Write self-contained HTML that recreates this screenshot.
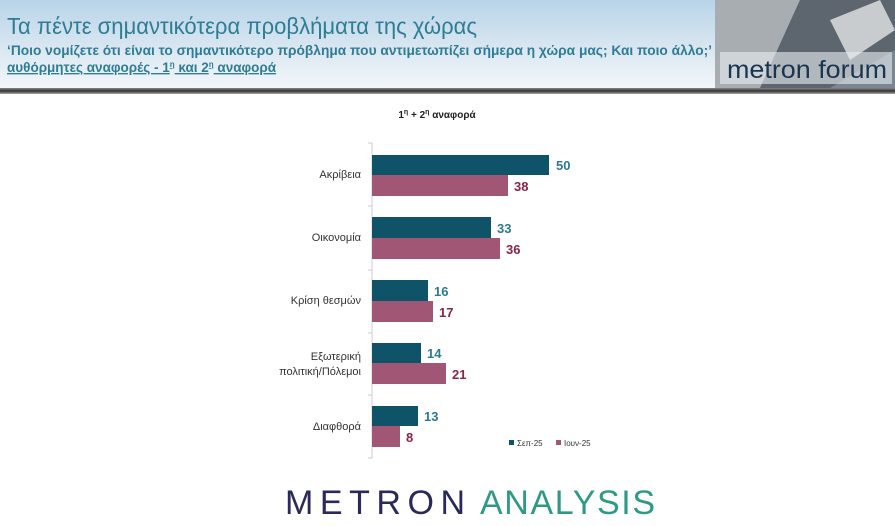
<!DOCTYPE html>
<html><head><meta charset="utf-8"><style>
html,body{margin:0;padding:0;width:895px;height:526px;overflow:hidden;background:#fff;font-family:"Liberation Sans","DejaVu Sans",sans-serif}
</style></head><body>
<svg width="895" height="526" xmlns="http://www.w3.org/2000/svg">
<defs>
<linearGradient id="hg" x1="0" y1="0" x2="0" y2="1">
<stop offset="0" stop-color="#b8d4e8"/><stop offset="0.6" stop-color="#dde9f2"/><stop offset="1" stop-color="#f4f7fa"/></linearGradient>
<linearGradient id="ln" x1="0" y1="0" x2="0" y2="1">
<stop offset="0" stop-color="#888"/><stop offset="0.5" stop-color="#333"/><stop offset="1" stop-color="#aaa"/></linearGradient>
</defs>
<rect x="0" y="0" width="895" height="90" fill="url(#hg)"/>
<rect x="0" y="88" width="895" height="6" fill="url(#ln)"/>
<rect x="715" y="0" width="180" height="88" fill="#7b8691"/>
<polygon points="715,0 800,0 760,88 715,88" fill="#a8adb2"/>
<polygon points="800,0 895,0 895,50 830,88 760,88" fill="#5d666e"/>
<polygon points="830,20 880,0 895,30 850,60" fill="#c9ccce"/>
<rect x="720" y="52" width="172" height="32" fill="#e8eef2" opacity="0.6"/>
<text x="727" y="78" font-size="25" fill="#1a3550" textLength="160" lengthAdjust="spacingAndGlyphs">metron forum</text>
<text x="7" y="34" font-size="23" fill="#2f7c95" textLength="470" lengthAdjust="spacingAndGlyphs">Τα πέντε σημαντικότερα προβλήματα της χώρας</text>
<text x="7" y="55" font-size="13.5" font-weight="bold" fill="#2f7c95" textLength="705" lengthAdjust="spacingAndGlyphs">‘Ποιο νομίζετε ότι είναι το σημαντικότερο πρόβλημα που αντιμετωπίζει σήμερα η χώρα μας; Και ποιο άλλο;’</text>
<text x="7" y="72" font-size="13.5" font-weight="bold" fill="#2f7c95" text-decoration="underline">αυθόρμητες αναφορές - 1<tspan font-size="8" dy="-5">η</tspan><tspan dy="5"> και 2</tspan><tspan font-size="8" dy="-5">η</tspan><tspan dy="5"> αναφορά</tspan></text>
<text x="437" y="118" font-size="10" font-weight="bold" fill="#222" text-anchor="middle">1<tspan font-size="7" dy="-4">η</tspan><tspan dy="4"> + 2</tspan><tspan font-size="7" dy="-4">η</tspan><tspan dy="4"> αναφορά</tspan></text>
<line x1="372" y1="143" x2="372" y2="458" stroke="#ccc"/>
<g stroke="#ccc"><line x1="368" y1="143" x2="372" y2="143"/><line x1="368" y1="206" x2="372" y2="206"/><line x1="368" y1="270" x2="372" y2="270"/><line x1="368" y1="333" x2="372" y2="333"/><line x1="368" y1="395" x2="372" y2="395"/><line x1="368" y1="458" x2="372" y2="458"/></g>
<g fill="#0e5368">
<rect x="372" y="155" width="177" height="20"/><rect x="372" y="217" width="119" height="21"/><rect x="372" y="280" width="56" height="21"/><rect x="372" y="343" width="49" height="20"/><rect x="372" y="406" width="46" height="20"/></g>
<g fill="#a05674">
<rect x="372" y="175" width="136" height="21"/><rect x="372" y="238" width="128" height="21"/><rect x="372" y="301" width="61" height="21"/><rect x="372" y="363" width="74" height="21"/><rect x="372" y="426" width="28" height="21"/></g>
<g font-size="13" font-weight="bold" fill="#2d7a93">
<text x="556" y="170">50</text><text x="497" y="233">33</text><text x="434" y="296">16</text><text x="427" y="358">14</text><text x="424" y="421">13</text></g>
<g font-size="13" font-weight="bold" fill="#8a2448">
<text x="514" y="191">38</text><text x="506" y="254">36</text><text x="439" y="317">17</text><text x="452" y="379">21</text><text x="406" y="442">8</text></g>
<g font-size="11" fill="#333" text-anchor="end">
<text x="361" y="178">Ακρίβεια</text><text x="361" y="241">Οικονομία</text><text x="361" y="304">Κρίση θεσμών</text><text x="361" y="360">Εξωτερική</text><text x="361" y="375">πολιτική/Πόλεμοι</text><text x="361" y="430">Διαφθορά</text></g>
<rect x="509" y="440" width="5" height="5" fill="#0e5368"/>
<text x="517" y="446" font-size="8" fill="#333">Σεπ-25</text>
<rect x="556" y="440" width="5" height="5" fill="#a05674"/>
<text x="564" y="446" font-size="8" fill="#333">Ιουν-25</text>
<text x="285" y="514" font-size="34" fill="#2a2a5a" textLength="180" lengthAdjust="spacing">METRON</text>
<text x="480" y="514" font-size="34" fill="#2e9a86" textLength="175" lengthAdjust="spacing">ANALYSIS</text>
</svg>
</body></html>
